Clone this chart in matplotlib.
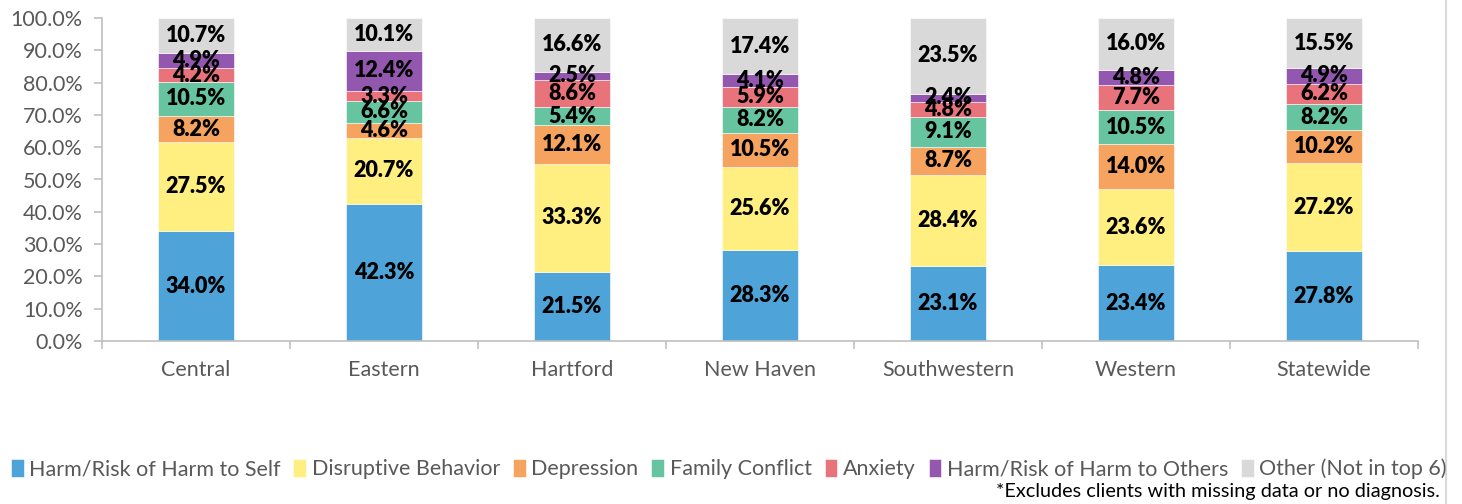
import numpy as np
import matplotlib
matplotlib.use('Agg')
import matplotlib.pyplot as plt
from matplotlib.lines import Line2D
from matplotlib.ticker import PercentFormatter

plt.rcParams['font.family'] = ['Lato', 'DejaVu Sans']

regions = ['Central', 'Eastern', 'Hartford', 'New Haven', 'Southwestern', 'Western', 'Statewide']

series_names = [
    'Harm/Risk of Harm to Self',
    'Disruptive Behavior',
    'Depression',
    'Family Conflict',
    'Anxiety',
    'Harm/Risk of Harm to Others',
    'Other (Not in top 6)',
]

harm_self = [34.0, 42.3, 21.5, 28.3, 23.1, 23.4, 27.8]
disruptive = [27.5, 20.7, 33.3, 25.6, 28.4, 23.6, 27.2]
depression = [8.2, 4.6, 12.1, 10.5, 8.7, 14.0, 10.2]
family_conflict = [10.5, 6.6, 5.4, 8.2, 9.1, 10.5, 8.2]
anxiety = [4.2, 3.3, 8.6, 5.9, 4.8, 7.7, 6.2]
harm_others = [4.9, 12.4, 2.5, 4.1, 2.4, 4.8, 4.9]
other = [10.7, 10.1, 16.6, 17.4, 23.5, 16.0, 15.5]

colors = ['#4EA3D8', '#FFEE80', '#F5A35E', '#66C4A0', '#E8737A', '#9457B0', '#D9D9D9']

series = [harm_self, disruptive, depression, family_conflict, anxiety, harm_others, other]

fig = plt.figure(figsize=(14.62, 5.04), dpi=100)
ax = fig.add_axes([102 / 1462, 163 / 504, 1316 / 1462, 323 / 504])

x = np.arange(len(regions))
bottom = np.zeros(len(regions))
for name, vals, col in zip(series_names, series, colors):
    vals = np.array(vals)
    ax.bar(x, vals, 0.4, bottom=bottom, color=col, label=name,
           edgecolor='white', linewidth=0.4)
    for xi, b, v in zip(x, bottom, vals):
        ax.text(xi, b + v / 2, f'{v:.1f}%', ha='center', va='center',
                fontsize=15.5, fontweight='heavy', color='black')
    bottom += vals

ax.set_xlim(-0.5, len(regions) - 0.5)
ax.set_ylim(0, 100)
ax.set_yticks(np.arange(0, 101, 10))
ax.yaxis.set_major_formatter(PercentFormatter(decimals=1))
ax.set_xticks(x)
ax.set_xticklabels(regions)
ax.set_xticks(np.arange(-0.5, len(regions), 1), minor=True)

for s in ['top', 'right']:
    ax.spines[s].set_visible(False)
for s in ['left', 'bottom']:
    ax.spines[s].set_color('#BFBFBF')
    ax.spines[s].set_linewidth(1.2)

ax.tick_params(axis='y', colors='#BFBFBF', labelcolor='#595959', labelsize=15.5,
               length=6, width=1.2, pad=8)
ax.tick_params(axis='x', which='major', length=0, labelcolor='#595959',
               labelsize=15.5, pad=14)
ax.tick_params(axis='x', which='minor', length=6, width=1.2, colors='#BFBFBF')

handles, labels = ax.get_legend_handles_labels()
leg = fig.legend(handles, labels, loc='center', bbox_to_anchor=(0.4985, 1 - 469 / 504),
                 ncol=7, frameon=False, fontsize=15.5, handlelength=0.6, handleheight=0.9,
                 handletextpad=0.25, columnspacing=0.6, borderaxespad=0)
for t in leg.get_texts():
    t.set_color('#595959')

fig.text(1440 / 1462, 1 - 491 / 504, '*Excludes clients with missing data or no diagnosis.',
         ha='right', va='center', fontsize=14.3, color='black')

fig.add_artist(Line2D([1446 / 1462, 1446 / 1462], [0, 1], color='#D9D9D9', linewidth=1.5))

fig.savefig('out.png', dpi=100)
